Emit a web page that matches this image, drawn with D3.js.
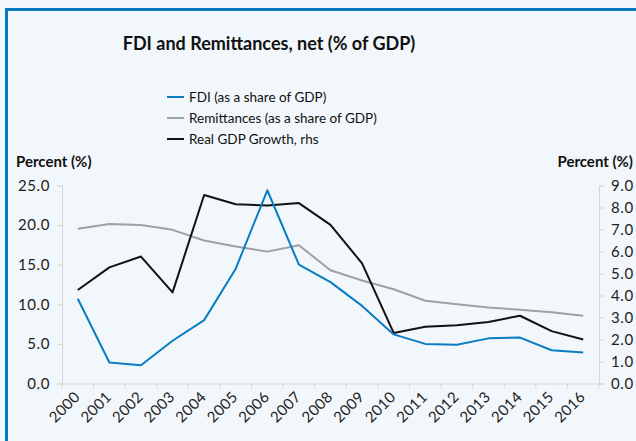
<!DOCTYPE html>
<html>
<head>
<meta charset="utf-8">
<script src="https://cdn.jsdelivr.net/npm/d3@7"></script>
<style>
  html, body { margin: 0; padding: 0; background: #f2f7fb; }
  svg { display: block; font-family: Lato, "Open Sans", sans-serif; }
</style>
</head>
<body>
<svg id="chart" width="636" height="441"></svg>
<script>
// chart data
const years = ["2000", "2001", "2002", "2003", "2004", "2005", "2006", "2007", "2008",
  "2009", "2010", "2011", "2012", "2013", "2014", "2015", "2016"];
const fdi = [10.7, 2.65, 2.3, 5.4, 8.0, 14.5, 24.4, 15.0, 12.8, 9.8, 6.2, 5.0, 4.9, 5.7, 5.8, 4.2, 3.9];
const remittances = [19.55, 20.15, 20.0, 19.4, 18.05, 17.3, 16.65, 17.45, 14.3, 13.0, 11.9, 10.45, 10.0, 9.6, 9.3, 9.0, 8.55];
const gdpGrowth = [4.25, 5.28, 5.77, 4.14, 8.57, 8.15, 8.09, 8.2, 7.21, 5.46, 2.3, 2.58, 2.65, 2.8, 3.08, 2.38, 2.0];
const leftTicks = [0, 5, 10, 15, 20, 25];
const rightTicks = [0, 1, 2, 3, 4, 5, 6, 7, 8, 9];

const svg = d3.select("#chart");
const axisColor = "#d4d7da";

// frame
svg.append("rect").attr("x", 6.5).attr("y", 9.5).attr("width", 660).attr("height", 460)
  .attr("fill", "none").attr("stroke", "#0a78c0").attr("stroke-width", 3);

svg.append("text").attr("x", 269).attr("y", 50).attr("text-anchor", "middle")
  .attr("font-size", 18).attr("font-weight", "bold").attr("fill", "#111")
  .text("FDI and Remittances, net (% of GDP)");

const x = d3.scaleBand().domain(years).range([62, 599]);
const yL = d3.scaleLinear().domain([0, 25]).range([383.5, 185.5]);
const yR = d3.scaleLinear().domain([0, 9]).range([383.5, 185.5]);

// left axis
const gL = svg.append("g").attr("transform", "translate(62,0)")
  .call(d3.axisLeft(yL).tickValues(leftTicks).tickFormat(d3.format(".1f")).tickSize(5).tickPadding(7));
// right axis
const gR = svg.append("g").attr("transform", "translate(599,0)")
  .call(d3.axisRight(yR).tickValues(rightTicks).tickFormat(d3.format(".1f")).tickSize(5).tickPadding(7));
// bottom axis with ticks at category boundaries
const gB = svg.append("g").attr("transform", "translate(0,383.5)")
  .call(d3.axisBottom(x).tickSize(0).tickFormat(""));
gB.selectAll(".tick").remove();
gB.selectAll(".bound").data(years.concat(["end"])).join("line")
  .attr("class", "bound")
  .attr("x1", (d, i) => i < years.length ? x(d) : x.range()[1])
  .attr("x2", (d, i) => i < years.length ? x(d) : x.range()[1])
  .attr("y1", 0).attr("y2", 5).attr("stroke", axisColor);

[gL, gR, gB].forEach(g => {
  g.selectAll("path.domain").attr("stroke", axisColor);
  g.selectAll(".tick line").attr("stroke", axisColor);
  g.selectAll(".tick text").attr("font-size", 15).attr("fill", "#222")
    .attr("font-family", "Lato, sans-serif").attr("letter-spacing", 0.6);
});

// x labels
svg.append("g").selectAll("text").data(years).join("text")
  .attr("transform", d => `translate(${x(d) + x.bandwidth() / 2 + 3},${398}) rotate(-45)`)
  .attr("text-anchor", "end").attr("font-size", 15).attr("letter-spacing", 0.3).attr("fill", "#222")
  .text(d => d);

// axis titles
svg.append("text").attr("x", 16).attr("y", 167).attr("font-size", 15).attr("font-weight", "bold")
  .attr("fill", "#111").text("Percent (%)");
svg.append("text").attr("x", 633).attr("y", 167).attr("text-anchor", "end").attr("font-size", 15)
  .attr("font-weight", "bold").attr("fill", "#111").text("Percent (%)");

// lines
const cx = d => x(d) + x.bandwidth() / 2;
const series = [
  { values: remittances, color: "#a0a0a0", scale: yL },
  { values: gdpGrowth, color: "#111", scale: yR },
  { values: fdi, color: "#0a7cc1", scale: yL }
];
series.forEach(s => {
  const line = d3.line().x((d, i) => cx(years[i])).y(d => s.scale(d));
  svg.append("path").datum(s.values).attr("d", line)
    .attr("fill", "none").attr("stroke", s.color).attr("stroke-width", 2)
    .attr("stroke-linejoin", "round");
});

// legend
const legend = [
  { label: "FDI (as a share of GDP)", color: "#0a7cc1" },
  { label: "Remittances (as a share of GDP)", color: "#a0a0a0" },
  { label: "Real GDP Growth, rhs", color: "#111" }
];
const lg = svg.append("g");
legend.forEach((d, i) => {
  const yy = 97 + i * 21;
  lg.append("line").attr("x1", 167).attr("x2", 184).attr("y1", yy).attr("y2", yy)
    .attr("stroke", d.color).attr("stroke-width", 2);
  lg.append("text").attr("x", 189).attr("y", yy + 5).attr("font-size", 13.5).attr("fill", "#111")
    .text(d.label);
});
</script>
</body>
</html>
